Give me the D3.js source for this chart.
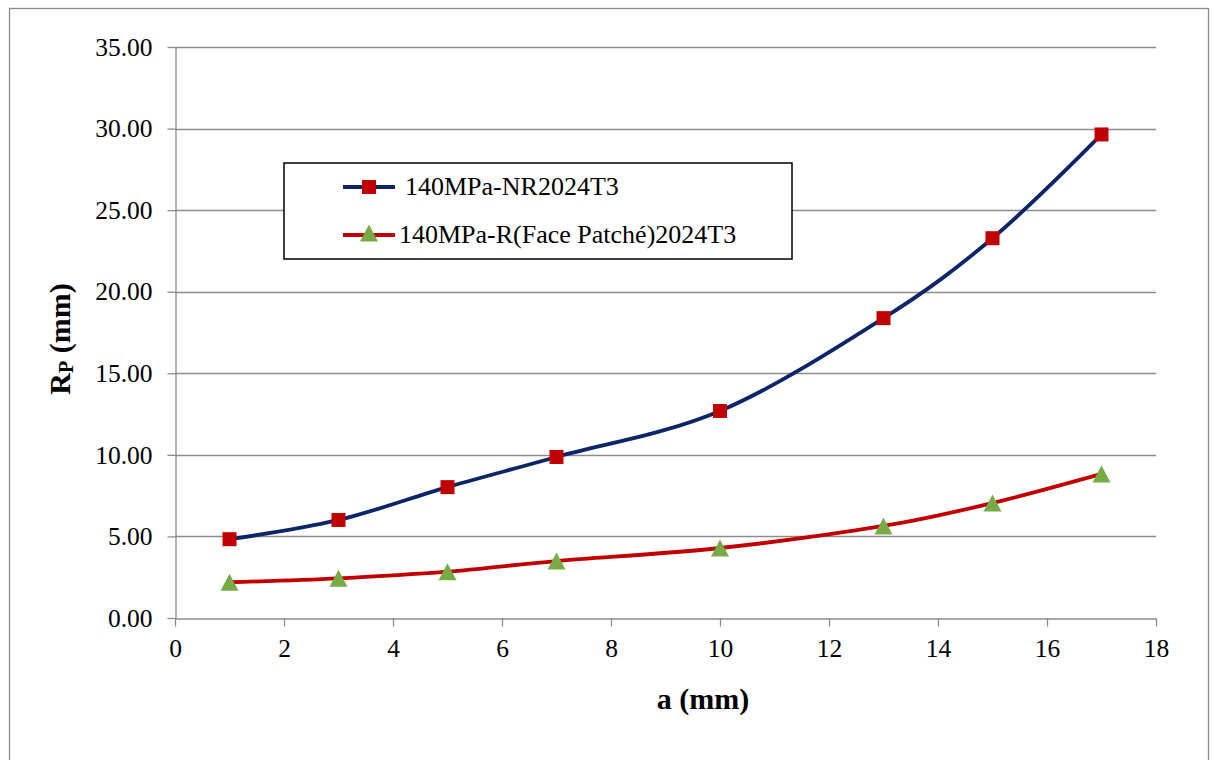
<!DOCTYPE html>
<html>
<head>
<meta charset="utf-8">
<script src="https://cdn.jsdelivr.net/npm/d3@7"></script>
<style>
  html, body { margin: 0; padding: 0; background: #fff; }
  svg { display: block; }
</style>
</head>
<body>
<svg id="chart" width="1214" height="760"></svg>
<script>
// Crack length a (mm)
const crackLength = [1, 3, 5, 7, 10, 13, 15, 17];
// Plastic zone radius Rp (mm), unrepaired plate
const rpUnrepaired = [4.83, 6.01, 8.02, 9.87, 12.69, 18.38, 23.28, 29.64];
// Plastic zone radius Rp (mm), patched face
const rpPatched = [2.19, 2.43, 2.84, 3.49, 4.29, 5.64, 7.05, 8.83];

const seriesNames = ["140MPa-NR2024T3", "140MPa-R(Face Patché)2024T3"];
const xTicks = [0, 2, 4, 6, 8, 10, 12, 14, 16, 18];
const yTicks = [0, 5, 10, 15, 20, 25, 30, 35];

const FONT = "'Liberation Serif', 'Times New Roman', Times, 'DejaVu Serif', serif";

const svg = d3.select("#chart");
const plot = { left: 175, right: 1156, top: 47, bottom: 618 };
const axisGrey = "#8c8c8c";

// outer chart frame
svg.append("rect")
  .attr("x", 9.5).attr("y", 8.5)
  .attr("width", 1199).attr("height", 760)
  .attr("fill", "#fff").attr("stroke", axisGrey).attr("stroke-width", 1.3);

const x = d3.scaleLinear().domain([0, 18]).range([plot.left, plot.right]);
const y = d3.scaleLinear().domain([0, 35]).range([plot.bottom, plot.top]);

// horizontal gridlines
svg.append("g")
  .selectAll("line")
  .data(yTicks.filter(d => d > 0))
  .join("line")
  .attr("x1", plot.left).attr("x2", plot.right)
  .attr("y1", d => Math.round(y(d)) + 0.5).attr("y2", d => Math.round(y(d)) + 0.5)
  .attr("stroke", axisGrey).attr("stroke-width", 1.3);

function styleTicks(g) {
  g.select(".domain").attr("stroke", axisGrey).attr("stroke-width", 1.3);
  g.selectAll(".tick line").attr("stroke", axisGrey).attr("stroke-width", 1.3);
  g.selectAll(".tick text")
    .style("font-family", FONT).style("font-size", "25.5px").attr("fill", "#000");
}

// y axis
svg.append("g")
  .attr("transform", `translate(${plot.left + 0.5},0)`)
  .call(d3.axisLeft(y).tickValues(yTicks).tickFormat(d3.format(".2f"))
    .tickSizeInner(8).tickSizeOuter(0).tickPadding(15))
  .call(styleTicks);

// x axis
svg.append("g")
  .attr("transform", `translate(0,${plot.bottom + 0.5})`)
  .call(d3.axisBottom(x).tickValues(xTicks).tickFormat(d3.format("d"))
    .tickSizeInner(8).tickSizeOuter(0).tickPadding(12))
  .call(styleTicks);

// axis titles
svg.append("text")
  .attr("x", 703).attr("y", 709)
  .attr("text-anchor", "middle")
  .style("font-family", FONT).style("font-size", "30px").style("font-weight", "bold")
  .text("a (mm)");

const yTitle = svg.append("text")
  .attr("transform", `translate(70,${339}) rotate(-90)`)
  .attr("text-anchor", "middle")
  .style("font-family", FONT).style("font-size", "30px").style("font-weight", "bold");
yTitle.append("tspan").text("R");
yTitle.append("tspan").style("font-size", "20px").attr("dy", 3).text("P");
yTitle.append("tspan").attr("dy", -3).text(" (mm)");

// smoothed series lines
const line = d3.line()
  .x(d => x(d[0])).y(d => y(d[1]))
  .curve(d3.curveCatmullRom.alpha(0));

const nrData = crackLength.map((a, i) => [a, rpUnrepaired[i]]);
const rData = crackLength.map((a, i) => [a, rpPatched[i]]);

const navy = "#0b2566";
const red = "#c00000";
const green = "#76ab46";

svg.append("path").datum(nrData)
  .attr("d", line).attr("fill", "none")
  .attr("stroke", navy).attr("stroke-width", 3.8);

svg.append("path").datum(rData)
  .attr("d", line).attr("fill", "none")
  .attr("stroke", red).attr("stroke-width", 3.8);

// markers
const sq = 14;
const triW = 18, triH = 17;
const triPath = `M0,${-triH / 2}L${triW / 2},${triH / 2}L${-triW / 2},${triH / 2}Z`;

svg.append("g").selectAll("rect")
  .data(nrData).join("rect")
  .attr("x", d => x(d[0]) - sq / 2).attr("y", d => y(d[1]) - sq / 2)
  .attr("width", sq).attr("height", sq)
  .attr("fill", red);

svg.append("g").selectAll("path")
  .data(rData).join("path")
  .attr("transform", d => `translate(${x(d[0])},${y(d[1])})`)
  .attr("d", triPath)
  .attr("fill", green);

// legend
const legend = svg.append("g");
legend.append("rect")
  .attr("x", 284).attr("y", 163)
  .attr("width", 508).attr("height", 96)
  .attr("fill", "#fff").attr("stroke", "#000").attr("stroke-width", 1.5);

const legendRows = [
  { name: seriesNames[0], stroke: navy, marker: "square", y: 187, tx: 405 },
  { name: seriesNames[1], stroke: red, marker: "triangle", y: 235, tx: 399 }
];
legendRows.forEach(r => {
  legend.append("line")
    .attr("x1", 343).attr("x2", 395)
    .attr("y1", r.y).attr("y2", r.y)
    .attr("stroke", r.stroke).attr("stroke-width", 3.8);
  if (r.marker === "square") {
    legend.append("rect")
      .attr("x", 369 - sq / 2).attr("y", r.y - sq / 2)
      .attr("width", sq).attr("height", sq).attr("fill", red);
  } else {
    legend.append("path")
      .attr("transform", `translate(369,${r.y - 2})`)
      .attr("d", triPath).attr("fill", green);
  }
  legend.append("text")
    .attr("x", r.tx).attr("y", r.y + 8)
    .style("font-family", FONT).style("font-size", "26px")
    .text(r.name);
});
</script>
</body>
</html>
